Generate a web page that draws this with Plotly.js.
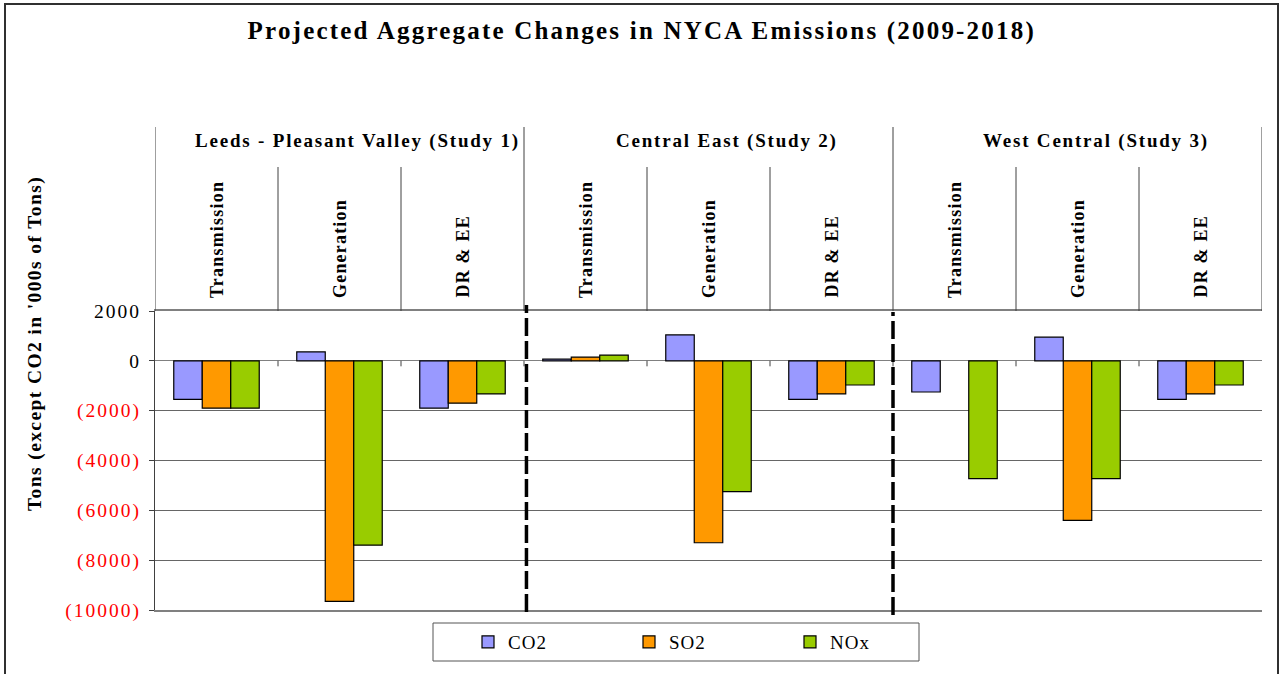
<!DOCTYPE html>
<html>
<head>
<meta charset="utf-8">
<script src="https://cdn.plot.ly/plotly-3.0.1.min.js"></script>
<style>
  html, body { margin: 0; padding: 0; background: #ffffff; }
  #chart { width: 1281px; height: 674px; }
  .legendtext { letter-spacing: 1px; }
</style>
</head>
<body>
<div id="chart"></div>
<script>
// ---- Data ----
const studies = ['Leeds - Pleasant Valley (Study 1)', 'Central East (Study 2)', 'West Central (Study 3)'];
const resources = ['Transmission', 'Generation', 'DR & EE'];
const seriesNames = ['CO2', 'SO2', 'NOx'];
// values per category, in order: Study1 T,G,D | Study2 T,G,D | Study3 T,G,D
const co2 = [-1550, 360, -1900, 70, 1040, -1550, -1250, 950, -1550];
const so2 = [-1900, -9650, -1700, 150, -7300, -1330, null, -6400, -1330];
const nox = [-1900, -7400, -1330, 230, -5250, -970, -4730, -4730, -970];
const tickValues = [2000, 0, -2000, -4000, -6000, -8000, -10000];
const tickLabels = ['2000', '0', '(2000)', '(4000)', '(6000)', '(8000)', '(10000)'];

// ---- Build categories ----
const categories = [];
studies.forEach((s, i) => resources.forEach(r => categories.push('S' + (i + 1) + ' ' + r)));

const colors = ['#9999FF', '#FF9900', '#99CC00'];
const values = [co2, so2, nox];

const traces = seriesNames.map((n, i) => ({
  type: 'bar',
  name: n,
  x: categories,
  y: values[i],
  marker: { color: colors[i], line: { color: '#000000', width: 1.2 } },
  hoverinfo: 'x+y+name'
}));

// ---- Layout helpers ----
const plotL = 155, plotR = 1262, plotT = 311, plotB = 610;
const pw = plotR - plotL, ph = plotB - plotT;
const px = X => (X - plotL) / pw;
const py = Y => (plotB - Y) / ph;

const serif = 'Liberation Serif, Times New Roman, serif';
const spaced = (t, s) => '<span style="letter-spacing:' + s + 'px">' + t + '</span>';

const shapes = [];
// outer chart border
shapes.push({ type: 'rect', xref: 'paper', yref: 'paper', x0: px(5), x1: px(1278), y0: py(700), y1: py(4),
  line: { color: '#303030', width: 2 }, layer: 'below' });
// header group dividers
[-0.5, 2.5, 5.5, 8.5].forEach(x => shapes.push({ type: 'line', xref: 'x', yref: 'paper', x0: x, x1: x,
  y0: 1, y1: py(127), line: { color: '#404040', width: 1 } }));
// header sub-category dividers
[0.5, 1.5, 3.5, 4.5, 6.5, 7.5].forEach(x => shapes.push({ type: 'line', xref: 'x', yref: 'paper', x0: x, x1: x,
  y0: 1, y1: py(167), line: { color: '#404040', width: 1 } }));
// category tick marks below the zero line
[0.5, 1.5, 2.5, 3.5, 4.5, 5.5, 6.5, 7.5].forEach(x => shapes.push({ type: 'line', xref: 'x', yref: 'y', x0: x, x1: x,
  y0: 0, y1: -220, line: { color: '#404040', width: 1 } }));
// dashed study separators
shapes.push({ type: 'line', xref: 'x', yref: 'paper', x0: 2.52, x1: 2.52, y0: py(612), y1: py(305),
  line: { color: '#000000', width: 3.5, dash: '18px,5px' } });
shapes.push({ type: 'line', xref: 'x', yref: 'paper', x0: 5.5, x1: 5.5, y0: py(615), y1: py(312),
  line: { color: '#000000', width: 3.5, dash: '18px,5px' } });
// legend frame
shapes.push({ type: 'rect', xref: 'paper', yref: 'paper', x0: px(433), x1: px(919), y0: py(661), y1: py(623),
  line: { color: '#555555', width: 1 } });

const annotations = [];
// study headers
studies.forEach((s, i) => annotations.push({
  text: '<b>' + spaced(s, 1.8) + '</b>', xref: 'x', yref: 'paper', x: categories[i * 3 + 1], y: py(141),
  xanchor: 'center', yanchor: 'middle', xshift: 18, showarrow: false,
  font: { family: serif, size: 19, color: '#000000' }
}));
// resource headers (vertical)
categories.forEach((c, i) => annotations.push({
  text: '<b>' + spaced(resources[i % 3], 1.2) + '</b>', xref: 'x', yref: 'paper', x: c, y: py(300),
  xanchor: 'center', yanchor: 'bottom', textangle: -90, showarrow: false,
  font: { family: serif, size: 18, color: '#000000' }
}));
// y-axis title
annotations.push({
  text: '<b>' + spaced("Tons (except CO2 in '000s of Tons)", 1.4) + '</b>', xref: 'paper', yref: 'paper',
  x: px(35), y: py(344),
  xanchor: 'center', yanchor: 'middle', textangle: -90, showarrow: false,
  font: { family: serif, size: 19.5, color: '#000000' }
});

const tickText = tickLabels.map((t, i) => tickValues[i] < 0
  ? '<span style="color:#FF0000;letter-spacing:2px">' + t + '</span>'
  : '<span style="letter-spacing:2px">' + t + '</span>');

const layout = {
  width: 1281, height: 674,
  margin: { l: plotL, r: 1281 - plotR, t: plotT, b: 674 - plotB, pad: 0 },
  paper_bgcolor: '#ffffff', plot_bgcolor: '#ffffff',
  font: { family: serif, size: 18, color: '#000000' },
  title: {
    text: '<b>' + spaced('Projected Aggregate Changes in NYCA Emissions (2009-2018)', 2.2) + '</b>',
    xref: 'container', yref: 'container', x: 0.501, y: 1 - 30 / 674,
    xanchor: 'center', yanchor: 'middle',
    font: { family: serif, size: 25, color: '#000000' }
  },
  barmode: 'group', bargap: 0.305, bargroupgap: 0,
  xaxis: {
    type: 'category', categoryorder: 'array', categoryarray: categories,
    range: [-0.5, 8.5], showticklabels: false, ticks: '',
    showline: true, mirror: true, linecolor: '#808080', linewidth: 1.5,
    showgrid: false, zeroline: false, fixedrange: true
  },
  yaxis: {
    range: [-10000, 2000], tickvals: tickValues, ticktext: tickText,
    ticks: 'outside', ticklen: 5, tickcolor: '#404040', ticklabelstandoff: 4,
    showline: true, linecolor: '#404040', linewidth: 1.2,
    showgrid: true, gridcolor: '#666666', gridwidth: 1,
    zeroline: true, zerolinecolor: '#808080', zerolinewidth: 1.2,
    tickfont: { family: serif, size: 19.5, color: '#000000' }, fixedrange: true
  },
  showlegend: true,
  legend: {
    orientation: 'h', xref: 'paper', yref: 'paper', x: px(468), y: py(642),
    xanchor: 'left', yanchor: 'middle', bgcolor: 'rgba(0,0,0,0)', borderwidth: 0,
    entrywidth: 116, entrywidthmode: 'pixels',
    font: { family: serif, size: 19, color: '#000000' }, traceorder: 'normal'
  },
  shapes: shapes,
  annotations: annotations
};

Plotly.newPlot('chart', traces, layout, { displayModeBar: false, staticPlot: false });
</script>
</body>
</html>
